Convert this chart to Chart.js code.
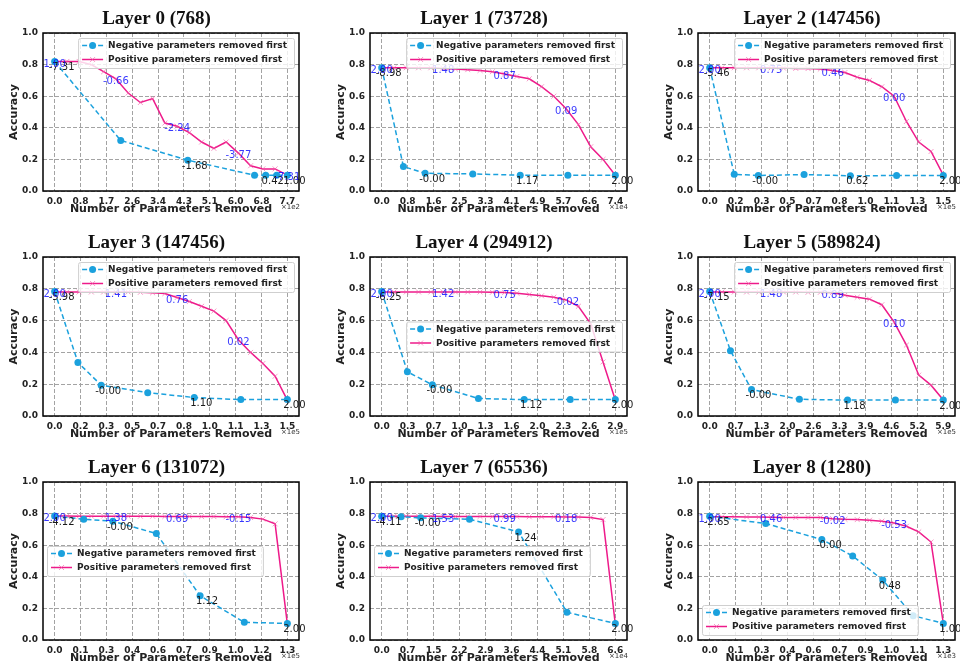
<!DOCTYPE html>
<html>
<head>
<meta charset="utf-8">
<script src="https://cdn.jsdelivr.net/npm/chart.js@4.4.1/dist/chart.umd.min.js"></script>
<style>
  html, body { margin: 0; padding: 0; background: #fff; overflow: hidden; }
  #fig { position: relative; width: 960px; height: 662px; }
  #fig canvas { position: absolute; }
</style>
</head>
<body>
<div id="fig"></div>
<script>
// ---- data ----
const LAYER_TITLES = [
    'Layer 0 (768)', 'Layer 1 (73728)', 'Layer 2 (147456)',
    'Layer 3 (147456)', 'Layer 4 (294912)', 'Layer 5 (589824)',
    'Layer 6 (131072)', 'Layer 7 (65536)', 'Layer 8 (1280)'
];
const X_EXPONENTS = ['×1e2', '×1e4', '×1e5', '×1e5', '×1e5', '×1e5', '×1e5', '×1e4', '×1e3'];
const X_TICK_LABELS = [
    ['0.0', '0.8', '1.7', '2.6', '3.4', '4.3', '5.1', '6.0', '6.8', '7.7'],
    ['0.0', '0.8', '1.6', '2.5', '3.3', '4.1', '4.9', '5.7', '6.6', '7.4'],
    ['0.0', '0.2', '0.3', '0.5', '0.7', '0.8', '1.0', '1.1', '1.3', '1.5'],
    ['0.0', '0.2', '0.3', '0.5', '0.7', '0.8', '1.0', '1.1', '1.3', '1.5'],
    ['0.0', '0.3', '0.7', '1.0', '1.3', '1.6', '2.0', '2.3', '2.6', '2.9'],
    ['0.0', '0.7', '1.3', '2.0', '2.6', '3.3', '3.9', '4.6', '5.2', '5.9'],
    ['0.0', '0.1', '0.3', '0.4', '0.6', '0.7', '0.9', '1.0', '1.2', '1.3'],
    ['0.0', '0.7', '1.5', '2.2', '2.9', '3.6', '4.4', '5.1', '5.8', '6.6'],
    ['0.0', '0.1', '0.3', '0.4', '0.6', '0.7', '0.9', '1.0', '1.1', '1.3']
];
const Y_TICKS = [0, 0.2, 0.4, 0.6, 0.8, 1.0];

// fraction of the layer's parameters removed at each step
const POS_FRACTIONS = [0, 0.0526, 0.1053, 0.1579, 0.2105, 0.2632, 0.3158, 0.3684, 0.4211, 0.4737,
    0.5263, 0.5789, 0.6316, 0.6842, 0.7368, 0.7895, 0.8421, 0.8947, 0.9474, 1];
const NEG_FRACTIONS = [
    [0, 0.284, 0.572, 0.859, 0.907, 0.954, 1],
    [0, 0.093, 0.186, 0.39, 0.593, 0.797, 1],
    [0, 0.105, 0.208, 0.404, 0.602, 0.8, 1],
    [0, 0.1, 0.2, 0.4, 0.6, 0.8, 1],
    [0, 0.11, 0.217, 0.414, 0.61, 0.807, 1],
    [0, 0.089, 0.179, 0.384, 0.59, 0.795, 1],
    [0, 0.125, 0.25, 0.437, 0.625, 0.815, 1],
    [0, 0.083, 0.167, 0.376, 0.586, 0.793, 1],
    [0, 0.24, 0.48, 0.612, 0.741, 0.871, 1]
];
const NEG_ACCURACY = [
    [0.82, 0.32, 0.195, 0.1, 0.1, 0.1, 0.1],
    [0.78, 0.155, 0.112, 0.108, 0.1, 0.1, 0.1],
    [0.78, 0.106, 0.098, 0.104, 0.096, 0.098, 0.098],
    [0.783, 0.337, 0.194, 0.147, 0.116, 0.103, 0.103],
    [0.783, 0.278, 0.196, 0.11, 0.103, 0.103, 0.103],
    [0.783, 0.41, 0.166, 0.105, 0.1, 0.1, 0.1],
    [0.785, 0.764, 0.752, 0.674, 0.28, 0.112, 0.105],
    [0.783, 0.78, 0.773, 0.764, 0.684, 0.175, 0.105],
    [0.783, 0.737, 0.636, 0.532, 0.379, 0.154, 0.105]
];
const POS_ACCURACY = [
    [0.82, 0.82, 0.82, 0.8, 0.755, 0.71, 0.62, 0.56, 0.585, 0.43, 0.41, 0.37, 0.31, 0.27, 0.31, 0.24, 0.16, 0.14, 0.14, 0.1],
    [0.78, 0.78, 0.78, 0.78, 0.78, 0.776, 0.772, 0.768, 0.763, 0.755, 0.74, 0.725, 0.71, 0.66, 0.6, 0.52, 0.42, 0.28, 0.2, 0.1],
    [0.78, 0.78, 0.78, 0.78, 0.78, 0.78, 0.778, 0.776, 0.775, 0.772, 0.762, 0.75, 0.72, 0.7, 0.66, 0.6, 0.44, 0.31, 0.25, 0.1],
    [0.78, 0.78, 0.78, 0.78, 0.78, 0.78, 0.78, 0.778, 0.775, 0.77, 0.745, 0.72, 0.69, 0.66, 0.6, 0.48, 0.4, 0.33, 0.25, 0.1],
    [0.78, 0.78, 0.78, 0.78, 0.78, 0.78, 0.78, 0.78, 0.78, 0.778, 0.777, 0.772, 0.764, 0.756, 0.747, 0.73, 0.69, 0.58, 0.34, 0.1],
    [0.78, 0.78, 0.78, 0.78, 0.78, 0.78, 0.78, 0.78, 0.778, 0.778, 0.777, 0.76, 0.747, 0.735, 0.7, 0.59, 0.446, 0.257, 0.194, 0.1],
    [0.785, 0.785, 0.784, 0.784, 0.784, 0.783, 0.783, 0.783, 0.783, 0.782, 0.782, 0.782, 0.781, 0.781, 0.78, 0.78, 0.775, 0.765, 0.735, 0.1],
    [0.783, 0.783, 0.783, 0.783, 0.783, 0.782, 0.782, 0.782, 0.782, 0.781, 0.781, 0.781, 0.78, 0.78, 0.78, 0.779, 0.778, 0.775, 0.762, 0.1],
    [0.78, 0.78, 0.78, 0.779, 0.778, 0.777, 0.776, 0.775, 0.775, 0.775, 0.768, 0.764, 0.762, 0.758, 0.752, 0.74, 0.72, 0.684, 0.62, 0.105]
];
// [point index, text]
const NEG_NOTES = [
    [[0, '-7.31'], [2, '-1.68'], [4, '0.42'], [6, '1.00']],
    [[0, '-8.98'], [2, '-0.00'], [4, '1.17'], [6, '2.00']],
    [[0, '-5.46'], [2, '-0.00'], [4, '0.62'], [6, '2.00']],
    [[0, '-5.98'], [2, '-0.00'], [4, '1.10'], [6, '2.00']],
    [[0, '-6.25'], [2, '-0.00'], [4, '1.12'], [6, '2.00']],
    [[0, '-7.15'], [2, '-0.00'], [4, '1.18'], [6, '2.00']],
    [[0, '-4.12'], [2, '-0.00'], [4, '1.12'], [6, '2.00']],
    [[0, '-4.11'], [2, '-0.00'], [4, '1.24'], [6, '2.00']],
    [[0, '-2.65'], [2, '-0.00'], [4, '0.48'], [6, '1.00']]
];
const POS_NOTES = [
    [[0, '1.00'], [5, '-0.66'], [10, '-2.24'], [15, '-3.77'], [19, '-7.31']],
    [[0, '2.00'], [5, '1.48'], [10, '0.87'], [15, '0.09']],
    [[0, '2.00'], [5, '0.75'], [10, '0.46'], [15, '0.00']],
    [[0, '2.00'], [5, '1.41'], [10, '0.76'], [15, '0.02']],
    [[0, '2.00'], [5, '1.42'], [10, '0.75'], [15, '-0.02']],
    [[0, '2.00'], [5, '1.48'], [10, '0.89'], [15, '0.10']],
    [[0, '2.00'], [5, '1.38'], [10, '0.69'], [15, '-0.15']],
    [[0, '2.00'], [5, '1.53'], [10, '0.99'], [15, '0.18']],
    [[0, '1.00'], [5, '0.46'], [10, '-0.02'], [15, '-0.53']]
];
const SERIES_LABELS = ['Negative parameters removed first', 'Positive parameters removed first'];
const LEGEND_SPOTS = ['upper right', 'upper right', 'upper right', 'upper right', 'center right',
    'upper right', 'center left', 'center left', 'lower left'];

// ---- layout ----
const CANVAS_W = 320;
const CANVAS_H = 232;
const AREA_LEFT = [43, 50, 58];
const AREA_RIGHT = [299, 307, 315];
const AREA_TOP = [33, 37, 42];
const AREA_BOTTOM = [191, 196, 200];
const Y_AXIS_W = 35;
const X_AXIS_H = 25;

const NEG_COLOR = '#1ba1dd';
const POS_COLOR = '#ee1a8a';
const POS_MARK = 'rgba(240, 90, 165, 0.6)';
const GRID_COLOR = '#a3a3a3';

Chart.defaults.font.family = '"DejaVu Sans", sans-serif';

function drawLegend(chart, p) {
    const ctx = chart.ctx;
    const area = chart.chartArea;
    ctx.save();
    ctx.font = 'bold 9px "DejaVu Sans"';
    const textW = Math.max(...SERIES_LABELS.map(s => ctx.measureText(s).width));
    const w = 4 + 21 + 5 + textW + 7;
    const h = 30;
    const spot = LEGEND_SPOTS[p];
    const x = spot.endsWith('right') ? area.right - 5 - w : area.left + 4;
    let y;
    if (spot.startsWith('upper')) {
        y = area.top + 5;
    } else if (spot.startsWith('lower')) {
        y = area.bottom - 5 - h;
    } else {
        y = (area.top + area.bottom) / 2 - h / 2;
    }
    ctx.beginPath();
    ctx.roundRect(x + 0.5, y + 0.5, w, h, 2);
    ctx.fillStyle = 'rgba(255,255,255,0.8)';
    ctx.fill();
    ctx.strokeStyle = '#cfcfcf';
    ctx.lineWidth = 1;
    ctx.stroke();

    const rows = [y + 7.5, y + 21.5];
    const hx0 = x + 4;
    const hx1 = hx0 + 21;
    const hm = (hx0 + hx1) / 2;
    // negative handle
    ctx.strokeStyle = NEG_COLOR;
    ctx.lineWidth = 1.5;
    ctx.setLineDash([5, 3]);
    ctx.beginPath();
    ctx.moveTo(hx0, rows[0]);
    ctx.lineTo(hx1, rows[0]);
    ctx.stroke();
    ctx.setLineDash([]);
    ctx.fillStyle = NEG_COLOR;
    ctx.beginPath();
    ctx.arc(hm, rows[0], 3.5, 0, Math.PI * 2);
    ctx.fill();
    // positive handle
    ctx.strokeStyle = POS_COLOR;
    ctx.beginPath();
    ctx.moveTo(hx0, rows[1]);
    ctx.lineTo(hx1, rows[1]);
    ctx.stroke();
    ctx.strokeStyle = POS_MARK;
    ctx.lineWidth = 1;
    ctx.beginPath();
    ctx.moveTo(hm - 2.5, rows[1] - 2.5);
    ctx.lineTo(hm + 2.5, rows[1] + 2.5);
    ctx.moveTo(hm - 2.5, rows[1] + 2.5);
    ctx.lineTo(hm + 2.5, rows[1] - 2.5);
    ctx.stroke();

    ctx.fillStyle = '#222';
    ctx.textAlign = 'left';
    ctx.textBaseline = 'middle';
    SERIES_LABELS.forEach((s, i) => ctx.fillText(s, hx1 + 5, rows[i] + 0.5));
    ctx.restore();
}

function makeDecor(p) {
    return {
        id: 'decor' + p,
        afterDatasetsDraw(chart) {
            const ctx = chart.ctx;
            const neg = chart.getDatasetMeta(0).data;
            const pos = chart.getDatasetMeta(1).data;
            ctx.save();
            ctx.font = '10px "DejaVu Sans"';
            ctx.textAlign = 'center';
            ctx.textBaseline = 'middle';
            ctx.fillStyle = '#1a1a1a';
            NEG_NOTES[p].forEach(([i, s]) => ctx.fillText(s, neg[i].x + 7, neg[i].y + 6));
            ctx.fillStyle = 'rgba(20,20,255,0.85)';
            POS_NOTES[p].forEach(([i, s]) => ctx.fillText(s, pos[i].x, pos[i].y + 2.5));
            ctx.restore();
            drawLegend(chart, p);
        },
        afterDraw(chart) {
            const ctx = chart.ctx;
            const a = chart.chartArea;
            ctx.save();
            ctx.strokeStyle = '#000';
            ctx.lineWidth = 1.5;
            ctx.strokeRect(a.left, a.top, a.right - a.left, a.bottom - a.top);

            ctx.fillStyle = '#111';
            ctx.font = 'bold 19px "Liberation Serif"';
            ctx.textAlign = 'center';
            ctx.textBaseline = 'alphabetic';
            ctx.fillText(LAYER_TITLES[p], (a.left + a.right) / 2 - 14.5, a.top - 9.5);

            ctx.font = '7px "DejaVu Sans"';
            ctx.fillStyle = '#333';
            ctx.textAlign = 'right';
            ctx.textBaseline = 'middle';
            ctx.fillText(X_EXPONENTS[p], a.right + 1, a.bottom + 16);
            ctx.restore();
        }
    };
}

const fig = document.getElementById('fig');
for (let p = 0; p < 9; p++) {
    const r = Math.floor(p / 3);
    const c = p % 3;
    const canvas = document.createElement('canvas');
    canvas.width = CANVAS_W;
    canvas.height = CANVAS_H;
    canvas.style.left = (c * 320) + 'px';
    canvas.style.top = (r * 220) + 'px';
    fig.appendChild(canvas);

    const L = AREA_LEFT[c], R = AREA_RIGHT[c], T = AREA_TOP[r], B = AREA_BOTTOM[r];
    const tickLabels = X_TICK_LABELS[p];

    new Chart(canvas, {
        type: 'line',
        data: {
            datasets: [
                {
                    label: SERIES_LABELS[0],
                    data: NEG_FRACTIONS[p].map((x, i) => ({ x, y: NEG_ACCURACY[p][i] })),
                    borderColor: NEG_COLOR,
                    backgroundColor: NEG_COLOR,
                    borderWidth: 1.5,
                    borderDash: [5, 3],
                    pointRadius: 3.5,
                    pointBorderWidth: 0,
                    pointBackgroundColor: NEG_COLOR,
                    tension: 0,
                    clip: false
                },
                {
                    label: SERIES_LABELS[1],
                    data: POS_FRACTIONS.map((x, i) => ({ x, y: POS_ACCURACY[p][i] })),
                    borderColor: POS_COLOR,
                    backgroundColor: POS_COLOR,
                    borderWidth: 1.5,
                    pointStyle: 'crossRot',
                    pointRadius: 3.5,
                    pointBorderWidth: 1,
                    pointBorderColor: POS_MARK,
                    tension: 0,
                    clip: false
                }
            ]
        },
        options: {
            responsive: false,
            animation: false,
            devicePixelRatio: 1,
            layout: {
                padding: { left: L - Y_AXIS_W, right: CANVAS_W - R, top: T, bottom: CANVAS_H - B - X_AXIS_H }
            },
            plugins: {
                legend: { display: false },
                tooltip: { enabled: false }
            },
            scales: {
                x: {
                    type: 'linear',
                    min: -0.05,
                    max: 1.05,
                    afterBuildTicks(scale) {
                        scale.ticks = tickLabels.map((_, k) => ({ value: k / (tickLabels.length - 1) }));
                    },
                    afterFit(scale) {
                        scale.height = X_AXIS_H;
                    },
                    ticks: {
                        autoSkip: false,
                        maxRotation: 0,
                        padding: 5,
                        color: '#222',
                        font: { size: 9, weight: 'bold' },
                        callback(value, index) {
                            return tickLabels[index];
                        }
                    },
                    grid: { color: GRID_COLOR, lineWidth: 1, drawTicks: false },
                    border: { display: false, dash: [4, 2] },
                    title: {
                        display: true,
                        text: 'Number of Parameters Removed',
                        color: '#222',
                        font: { size: 11, weight: 'bold' },
                        padding: 0
                    }
                },
                y: {
                    min: 0,
                    max: 1,
                    afterBuildTicks(scale) {
                        scale.ticks = Y_TICKS.map(v => ({ value: v }));
                    },
                    afterFit(scale) {
                        scale.width = Y_AXIS_W;
                    },
                    ticks: {
                        padding: 5,
                        color: '#222',
                        font: { size: 9, weight: 'bold' },
                        callback(value) {
                            return Number(value).toFixed(1);
                        }
                    },
                    grid: { color: GRID_COLOR, lineWidth: 1, drawTicks: false },
                    border: { display: false, dash: [4, 2] },
                    title: {
                        display: true,
                        text: 'Accuracy',
                        color: '#222',
                        font: { size: 11, weight: 'bold' },
                        padding: 0
                    }
                }
            }
        },
        plugins: [makeDecor(p)]
    });
}
</script>
</body>
</html>
